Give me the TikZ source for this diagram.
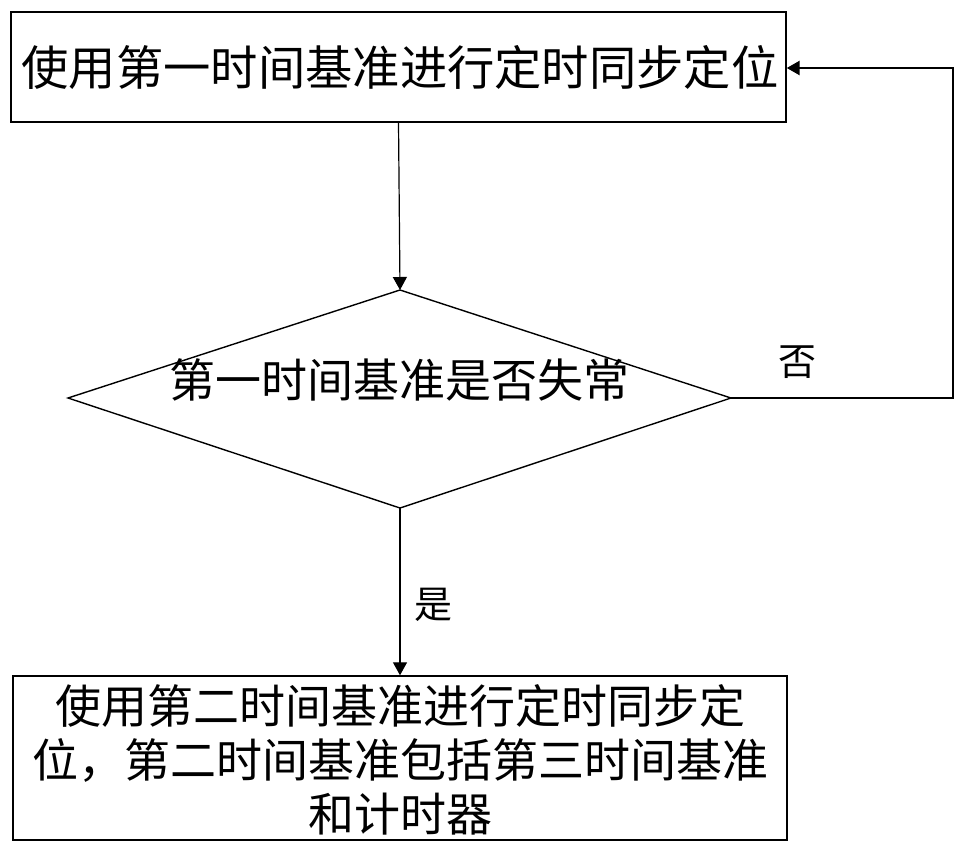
\documentclass[tikz,border=0pt]{standalone}
\usepackage{fontspec}
\setmainfont{Noto Sans CJK SC}
\usetikzlibrary{arrows.meta,shapes.geometric}
\begin{document}
\begin{tikzpicture}[x=1pt,y=-1pt,
  boxline/.style={draw=black,line width=1.4pt},
  flow/.style={draw=black,line width=1.2pt,-{Triangle[width=14pt,length=13pt]}},
  loopline/.style={draw=black,line width=2.6pt,-{Triangle[width=14pt,length=13pt]}},
  lbl/.style={font=\fontsize{38}{40}\selectfont,inner sep=0pt}]
\useasboundingbox (0,0) rectangle (965,856);
\fill[white] (0,0) rectangle (965,856);
% top box
\node[boxline,minimum width=775pt,minimum height=110pt,inner sep=0pt] (top) at (398.5,67) {};
\node[inner sep=0pt,font=\fontsize{47.3}{50}\selectfont] (toptxt) at (400,67) {使用第一时间基准进行定时同步定位};
% diamond
\coordinate (dt) at (400,290);
\coordinate (db) at (400,508);
\coordinate (dl) at (68,398);
\coordinate (dr) at (731,398);
\draw[boxline] (dt) -- (dr) -- (db) -- (dl) -- cycle;
\node[inner sep=0pt,font=\fontsize{46}{48}\selectfont] (dtxt) at (399,380) {第一时间基准是否失常};
% bottom box
\node[boxline,minimum width=774pt,minimum height=164pt,inner sep=0pt] (bot) at (400,758) {};
\node[inner sep=0pt,align=center,font=\fontsize{46}{54}\selectfont] (bottxt) at (400,760) {使用第二时间基准进行定时同步定\\位，第二时间基准包括第三时间基准\\和计时器};
% connectors
\draw[flow] (top.south) -- (dt);
\draw[flow] (db) -- (bot.north);
\coordinate (c1) at (953,398);
\coordinate (c2) at (953,68);
\draw[loopline] (dr) -- (c1) -- (c2) -- (top.east |- c2);
\node[lbl] (no) at (797,362) {否};
\node[lbl] (yes) at (433,605) {是};
\end{tikzpicture}
\end{document}
